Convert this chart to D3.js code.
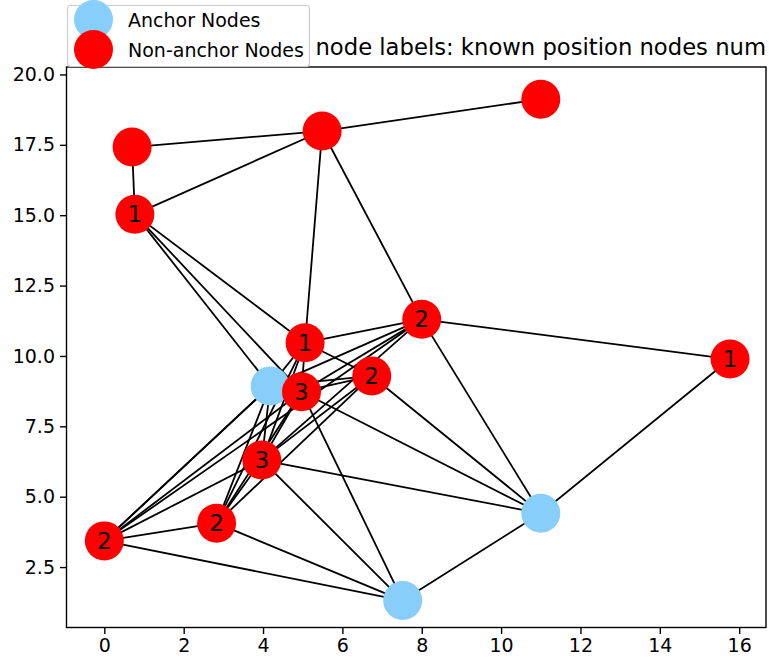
<!DOCTYPE html>
<html>
<head>
<meta charset="utf-8">
<script src="https://cdn.jsdelivr.net/npm/d3@7"></script>
<style>
  html, body { margin: 0; padding: 0; background: #ffffff; }
  svg { display: block; }
  text { font-family: "DejaVu Sans", sans-serif; }
</style>
</head>
<body>
<div id="chart"></div>
<script>
// Node positions (data units), anchor flags and the labels shown inside nodes
const nodeIds    = ["A", "B", "C", "D", "E", "F", "G", "H", "I", "J", "K", "L", "M", "N", "O"];
const nodeX      = [11.0, 5.49, 0.70, 0.77, 5.06, 8.0, 15.77, 4.18, 4.97, 6.74, 3.97, 11.0, 0.0, 2.83, 7.52];
const nodeY      = [19.12, 17.99, 17.42, 15.03, 10.47, 11.30, 9.89, 8.93, 8.73, 9.29, 6.30, 4.41, 3.43, 4.06, 1.31];
const nodeAnchor = [false, false, false, false, false, false, false, true, false, false, false, true, false, false, true];
const nodeLabel  = ["", "", "", "1", "1", "2", "1", "", "3", "2", "3", "", "2", "2", ""];

// Graph edges
const edgeSource = ["A", "B", "B", "B", "B", "C", "D", "D", "D", "E", "E", "E", "E", "E", "E",
                    "F", "F", "F", "F", "F", "F", "H", "H", "H", "H", "H", "I", "I", "I", "I", "I",
                    "J", "J", "J", "K", "K", "K", "K", "L", "L", "M", "M", "N", "M", "M"];
const edgeTarget = ["B", "C", "D", "E", "F", "D", "E", "H", "I", "F", "H", "J", "I", "K", "N",
                    "G", "H", "I", "K", "M", "L", "I", "J", "K", "M", "N", "J", "K", "L", "O", "N",
                    "L", "K", "N", "L", "O", "M", "N", "G", "O", "N", "O", "O", "H", "I"];

// Axis ticks
const xTicks = [0, 2, 4, 6, 8, 10, 12, 14, 16];
const yTicks = [2.5, 5.0, 7.5, 10.0, 12.5, 15.0, 17.5, 20.0];

const legendLabels = ["Anchor Nodes", "Non-anchor Nodes"];
const titleText = "node labels: known position nodes num";

const W = 769, H = 662;
const plot = { left: 66.5, right: 766, top: 67, bottom: 627.5 };
const anchorColor = "#87cefa", otherColor = "#ff0000";
const nodeR = 19.5;

const svg = d3.select("#chart").append("svg")
  .attr("width", W).attr("height", H);

const x = d3.scaleLinear().domain([-0.953, 16.676]).range([plot.left, plot.right]);
const y = d3.scaleLinear().domain([0.353, 20.265]).range([plot.bottom, plot.top]);

const nodes = nodeIds.map((id, i) => ({
  id, x: nodeX[i], y: nodeY[i], anchor: nodeAnchor[i], label: nodeLabel[i]
}));
const byId = new Map(nodes.map(n => [n.id, n]));
const edges = edgeSource.map((s, i) => ({ s: byId.get(s), t: byId.get(edgeTarget[i]) }));

// Edges
svg.append("g").selectAll("line").data(edges).join("line")
  .attr("x1", d => x(d.s.x)).attr("y1", d => y(d.s.y))
  .attr("x2", d => x(d.t.x)).attr("y2", d => y(d.t.y))
  .attr("stroke", "#000").attr("stroke-width", 1.8);

// Nodes: anchors first, non-anchors on top
const nodeOrder = nodes.filter(n => n.anchor).concat(nodes.filter(n => !n.anchor));
svg.append("g").selectAll("circle").data(nodeOrder).join("circle")
  .attr("cx", d => x(d.x)).attr("cy", d => y(d.y)).attr("r", nodeR)
  .attr("fill", d => d.anchor ? anchorColor : otherColor);

svg.append("g").selectAll("text").data(nodes.filter(n => n.label !== "")).join("text")
  .attr("x", d => x(d.x)).attr("y", d => y(d.y))
  .attr("text-anchor", "middle").attr("dominant-baseline", "central")
  .attr("font-size", 22.5).attr("fill", "#000")
  .text(d => d.label);

// Axes
const xAxis = d3.axisBottom(x).tickValues(xTicks).tickFormat(d3.format("d"))
  .tickSize(6.5).tickPadding(5);
const yAxis = d3.axisLeft(y).tickValues(yTicks).tickFormat(d3.format(".1f"))
  .tickSize(6.5).tickPadding(5);

const gx = svg.append("g").attr("transform", `translate(0,${plot.bottom})`).call(xAxis);
const gy = svg.append("g").attr("transform", `translate(${plot.left},0)`).call(yAxis);
[gx, gy].forEach(g => {
  g.select(".domain").remove();
  g.selectAll(".tick line").attr("stroke", "#000").attr("stroke-width", 1.4);
  g.selectAll(".tick text").attr("font-size", 19).attr("fill", "#000")
    .attr("font-family", "DejaVu Sans, sans-serif");
});

// Frame
svg.append("rect")
  .attr("x", plot.left).attr("y", plot.top)
  .attr("width", plot.right - plot.left).attr("height", plot.bottom - plot.top)
  .attr("fill", "none").attr("stroke", "#000").attr("stroke-width", 1.4);

// Title
svg.append("text")
  .attr("x", plot.right).attr("y", 55)
  .attr("text-anchor", "end").attr("font-size", 22.7).attr("fill", "#000")
  .text(titleText);

// Legend
const lg = svg.append("g");
lg.append("rect")
  .attr("x", 67.5).attr("y", 5.5).attr("width", 242).attr("height", 61)
  .attr("rx", 3).attr("fill", "#fff").attr("fill-opacity", 0.8)
  .attr("stroke", "#cccccc").attr("stroke-width", 1.2);
const legendColors = [anchorColor, otherColor];
const legendRowY = [19.5, 49.5];
lg.selectAll("circle").data(legendLabels).join("circle")
  .attr("cx", 93.5).attr("cy", (d, i) => legendRowY[i]).attr("r", nodeR)
  .attr("fill", (d, i) => legendColors[i]);
lg.selectAll("text").data(legendLabels).join("text")
  .attr("x", 128).attr("y", (d, i) => legendRowY[i] + 7)
  .attr("font-size", 19).attr("fill", "#000")
  .text(d => d);
</script>
</body>
</html>
